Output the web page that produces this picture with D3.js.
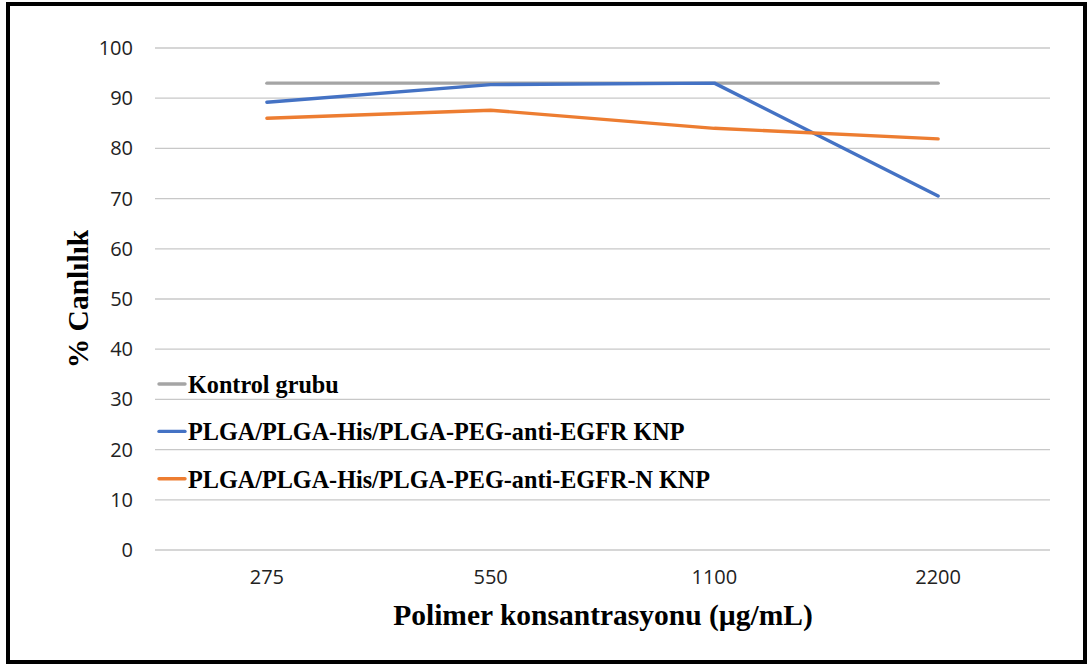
<!DOCTYPE html>
<html>
<head>
<meta charset="utf-8">
<script src="https://cdn.jsdelivr.net/npm/d3@7"></script>
<style>
  html, body { margin: 0; padding: 0; background: #fff; }
  svg { display: block; }
</style>
</head>
<body>
<svg id="chart" width="1087" height="664"></svg>
<script>
// Concentration categories (µg/mL)
const categories = ["275", "550", "1100", "2200"];

// Viability (%) per series
const kontrolValues = [93.0, 93.0, 93.0, 93.0];
const egfrValues = [89.2, 92.7, 93.0, 70.5];
const egfrNValues = [86.0, 87.6, 84.0, 81.9];

const seriesNames = [
  "Kontrol grubu",
  "PLGA/PLGA-His/PLGA-PEG-anti-EGFR KNP",
  "PLGA/PLGA-His/PLGA-PEG-anti-EGFR-N KNP"
];
const seriesColors = ["#a5a5a5", "#4472c4", "#ed7d31"];

const yTicks = [0, 10, 20, 30, 40, 50, 60, 70, 80, 90, 100];

const series = [
  { name: seriesNames[0], values: kontrolValues, color: seriesColors[0] },
  { name: seriesNames[1], values: egfrValues, color: seriesColors[1] },
  { name: seriesNames[2], values: egfrNValues, color: seriesColors[2] }
];

const svg = d3.select("#chart");

// Outer frame
svg.append("rect")
  .attr("x", 8).attr("y", 4)
  .attr("width", 1077).attr("height", 658)
  .attr("fill", "#fff")
  .attr("stroke", "#000")
  .attr("stroke-width", 4);

const plot = { left: 155, right: 1050, top: 48, bottom: 550 };

const x = d3.scaleBand()
  .domain(categories)
  .range([plot.left, plot.right]);

const y = d3.scaleLinear()
  .domain([0, 100])
  .range([plot.bottom, plot.top]);

// Horizontal gridlines
svg.append("g")
  .selectAll("line")
  .data(yTicks)
  .join("line")
  .attr("x1", plot.left).attr("x2", plot.right)
  .attr("y1", d => y(d)).attr("y2", d => y(d))
  .attr("stroke", "#c8c8c8")
  .attr("stroke-width", 1.3);

const tickFont = "'Open Sans', 'DejaVu Sans', sans-serif";

// Y axis labels
const yAxis = d3.axisLeft(y).tickValues(yTicks).tickSize(0).tickPadding(0);
const gy = svg.append("g")
  .attr("transform", `translate(${plot.left - 22},0)`)
  .call(yAxis);
gy.select(".domain").remove();
gy.selectAll("text")
  .attr("font-family", tickFont)
  .attr("font-size", 20)
  .attr("fill", "#222");

// X axis labels
const xAxis = d3.axisBottom(x).tickSize(0).tickPadding(0);
const gx = svg.append("g")
  .attr("transform", `translate(0,${plot.bottom + 20})`)
  .call(xAxis);
gx.select(".domain").remove();
gx.selectAll("text")
  .attr("font-family", tickFont)
  .attr("font-size", 20)
  .attr("fill", "#222");

// Series lines
const line = d3.line()
  .x((d, i) => x(categories[i]) + x.bandwidth() / 2)
  .y(d => y(d));

svg.append("g")
  .selectAll("path")
  .data(series)
  .join("path")
  .attr("d", d => line(d.values))
  .attr("fill", "none")
  .attr("stroke", d => d.color)
  .attr("stroke-width", 3.4)
  .attr("stroke-linejoin", "round")
  .attr("stroke-linecap", "round");

const serif = "'Liberation Serif', 'Times New Roman', serif";

// Legend
const legendTop = 384;
const legendGap = 47.4;
const legend = svg.append("g")
  .selectAll("g")
  .data(series)
  .join("g")
  .attr("transform", (d, i) => `translate(159,${legendTop + i * legendGap})`);
legend.append("line")
  .attr("x1", 0).attr("x2", 26)
  .attr("y1", 0).attr("y2", 0)
  .attr("stroke", d => d.color)
  .attr("stroke-width", 3.4)
  .attr("stroke-linecap", "round");
legend.append("text")
  .attr("x", 29)
  .attr("y", 0)
  .attr("dy", "0.36em")
  .attr("font-family", serif)
  .attr("font-weight", "bold")
  .attr("font-size", 24.2)
  .attr("fill", "#000")
  .text(d => d.name);

// Axis titles
svg.append("text")
  .attr("x", 603)
  .attr("y", 625)
  .attr("text-anchor", "middle")
  .attr("font-family", serif)
  .attr("font-weight", "bold")
  .attr("font-size", 29.5)
  .attr("fill", "#000")
  .text("Polimer konsantrasyonu (µg/mL)");

svg.append("text")
  .attr("transform", "translate(88,299) rotate(-90)")
  .attr("text-anchor", "middle")
  .attr("font-family", serif)
  .attr("font-weight", "bold")
  .attr("font-size", 29.5)
  .attr("fill", "#000")
  .text("% Canlılık");
</script>
</body>
</html>
